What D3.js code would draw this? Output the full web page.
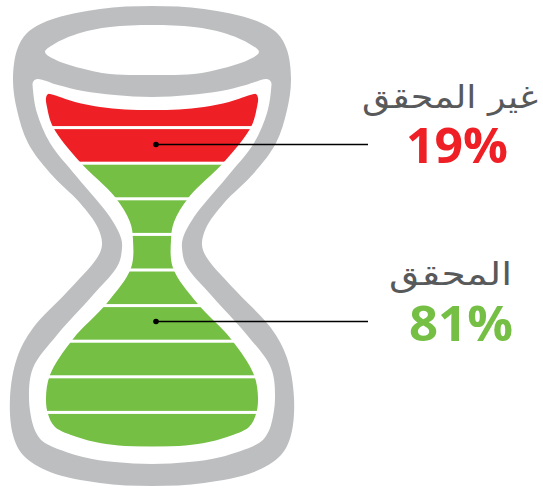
<!DOCTYPE html>
<html>
<head>
<meta charset="utf-8">
<script src="https://cdn.jsdelivr.net/npm/d3@7"></script>
<style>
html,body{margin:0;padding:0;background:#fff;}
svg{display:block;}
</style>
</head>
<body>
<div id="chart"></div>
<script>
// chart values
var categories = ["غير المحقق", "المحقق"];
var percents = [19, 81];
var unitCounts = [2, 8]; // striped rows in the glass per category
var seriesColors = ["#ee1f25", "#74bf44"];

// left half of the glass, top centre to bottom centre, mirrored below
var outerEdge = [[152,6],[100,9],[50,20],[27,33],[17,50],[13,80],[17,110],[28,143],[50,173],[80,203],[98,228],[102,245],[97,258],[67,292],[33,328],[17,358],[10,398],[13,435],[23,455],[50,472],[100,483],[152,486]];
var holeEdge = [[152,25],[110,27],[80,33],[56,43],[45,52],[56,60],[80,68],[110,74],[152,75]];
var innerEdge = [[152,97],[115,95],[83,91],[58,85],[37,79],[33,82],[33,90],[37,113],[50,143],[77,177],[110,217],[121,238],[122,248],[118,265],[93,295],[57,335],[33,368],[29,398],[33,425],[38,436],[45,443],[83,457],[115,462],[152,464]];
var liquidEdge = [[152,110],[125,109.5],[100,107],[75,102],[52,94.5],[48,94],[46,98],[47,107],[53,127],[80,162],[115,197],[130,222],[133,240],[131,268],[107,303],[73,339],[50,375],[46,398],[48,414],[55,427],[77,437],[100,443],[125,446],[152,447]];

var w = 543;
var h = 489;
var cx = 152;

var svg = d3.select("#chart").append("svg")
	.attr("width", w)
	.attr("height", h);

function outline(pts){
	var mirrored = pts.slice(1, -1).reverse().map(function(p){ return [2 * cx - p[0], p[1]]; });
	return d3.line().curve(d3.curveCatmullRomClosed.alpha(0.5))(pts.concat(mirrored));
}

// one colour per row, top row first
var rows = [];
categories.forEach(function(c, i){
	d3.range(unitCounts[i]).forEach(function(){ rows.push(i); });
});

var yRow = d3.scaleBand()
	.domain(d3.range(rows.length))
	.range([92, 448])
	.paddingInner(0.085)
	.paddingOuter(0.0425);

svg.append("clipPath").attr("id", "liquid")
	.append("path").attr("d", outline(liquidEdge));

// glass
svg.append("path")
	.attr("d", outline(outerEdge) + outline(holeEdge) + outline(innerEdge))
	.attr("fill", "#bcbec0")
	.attr("fill-rule", "evenodd");

svg.append("g").attr("clip-path", "url(#liquid)")
	.selectAll("rect")
	.data(rows)
	.enter()
	.append("rect")
	.attr("x", 0)
	.attr("y", function(d, i){ return yRow(i); })
	.attr("width", 2 * cx)
	.attr("height", yRow.bandwidth())
	.attr("fill", function(d){ return seriesColors[d]; });

// callouts
var calloutY = [144.5, 321.5];
var labelX = [538, 512];
var labelY = [108, 285];
var labelW = [176, 123];
var pctX = [508, 513];
var pctY = [163, 341];
var pctW = [102, 104];

svg.selectAll(".lead")
	.data(categories)
	.enter()
	.append("line")
	.attr("class", "lead")
	.attr("x1", 156)
	.attr("x2", 368)
	.attr("y1", function(d, i){ return calloutY[i]; })
	.attr("y2", function(d, i){ return calloutY[i]; })
	.attr("stroke", "#000")
	.attr("stroke-width", 1.3);

svg.selectAll(".dot")
	.data(categories)
	.enter()
	.append("circle")
	.attr("class", "dot")
	.attr("cx", 156)
	.attr("cy", function(d, i){ return calloutY[i]; })
	.attr("r", 2.8)
	.attr("fill", "#000");

svg.selectAll(".cat")
	.data(categories)
	.enter()
	.append("text")
	.attr("class", "cat")
	.attr("x", function(d, i){ return labelX[i]; })
	.attr("y", function(d, i){ return labelY[i]; })
	.attr("text-anchor", "end")
	.attr("direction", "ltr")
	.attr("font-family", "'DejaVu Sans', sans-serif")
	.attr("font-size", 32)
	.attr("textLength", function(d, i){ return labelW[i]; })
	.attr("lengthAdjust", "spacingAndGlyphs")
	.attr("fill", "#58595b")
	.text(function(d){ return d; });

svg.selectAll(".pct")
	.data(percents)
	.enter()
	.append("text")
	.attr("class", "pct")
	.attr("x", function(d, i){ return pctX[i]; })
	.attr("y", function(d, i){ return pctY[i]; })
	.attr("text-anchor", "end")
	.attr("font-family", "'Open Sans', sans-serif")
	.attr("font-weight", 700)
	.attr("font-size", 49)
	.attr("textLength", function(d, i){ return pctW[i]; })
	.attr("lengthAdjust", "spacingAndGlyphs")
	.attr("fill", function(d, i){ return seriesColors[i]; })
	.text(function(d){ return d + "%"; });
</script>
</body>
</html>
